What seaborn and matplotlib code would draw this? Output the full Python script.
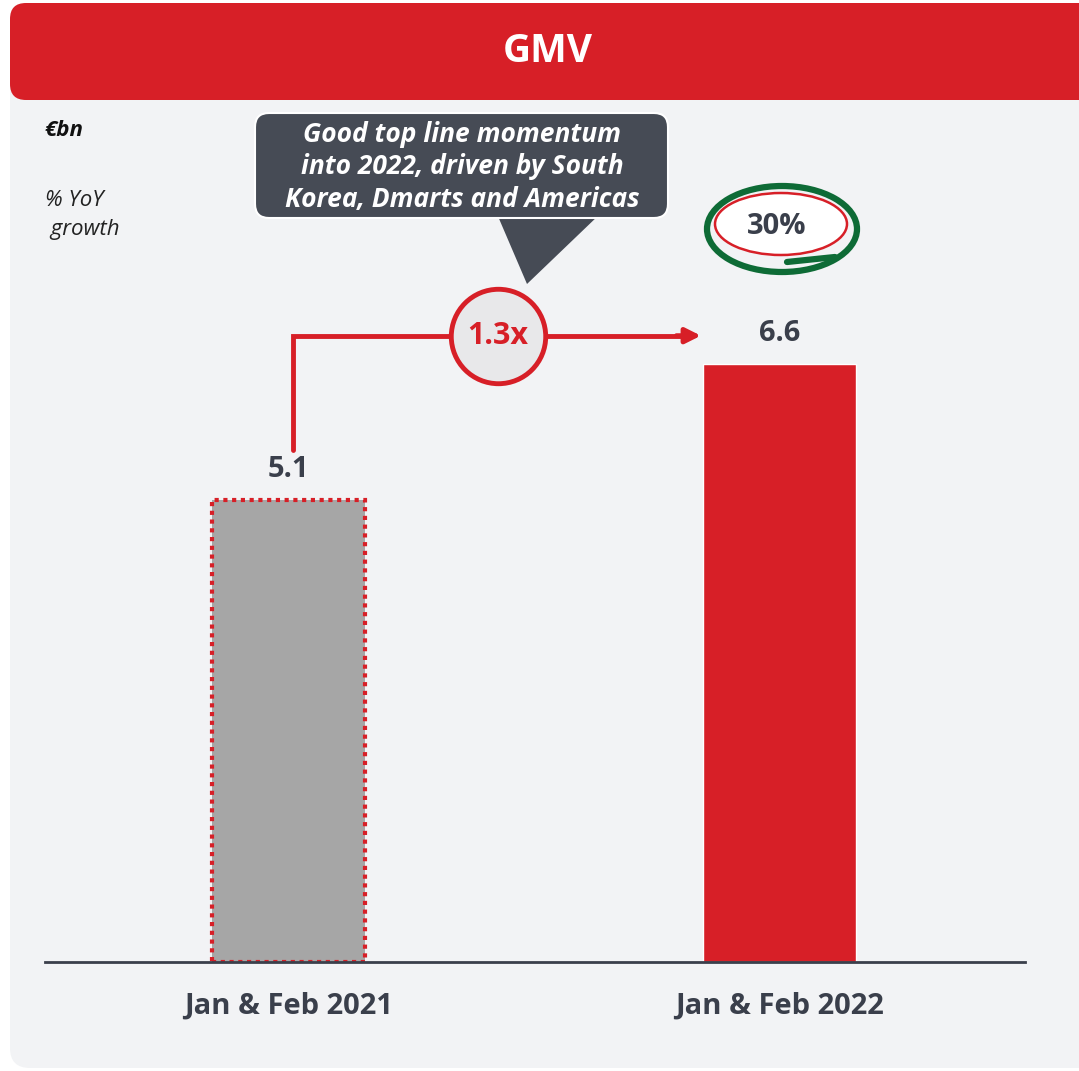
import matplotlib
matplotlib.use("Agg")
import matplotlib.pyplot as plt
import seaborn as sns
import pandas as pd
from matplotlib.patches import FancyBboxPatch, Polygon, Ellipse

# ---- data ----
periods = ["Jan & Feb 2021", "Jan & Feb 2022"]
gmv_values = [5.1, 6.6]
multiple_label = "1.3x"
growth_label = "30%"
title = "GMV"
unit_label = "€bn"
growth_axis_label = ["% YoY", " growth"]
callout_lines = ["Good top line momentum", "into 2022, driven by South", "Korea, Dmarts and Americas"]

RED = "#D71F27"
GRAY = "#A6A6A6"
DARK = "#3A3F4B"
PANEL = "#F2F3F5"
CALLOUT = "#464B55"
GREEN = "#0E6B36"

sns.set_style("white")
plt.rcParams["font.family"] = ["Open Sans", "DejaVu Sans"]

W, H = 1079, 1071
fig = plt.figure(figsize=(W / 100, H / 100), dpi=100)
fig.patch.set_facecolor("white")

# background overlay in pixel coordinates
bg = fig.add_axes([0, 0, 1, 1], zorder=0)
bg.set_xlim(0, W)
bg.set_ylim(H, 0)
bg.axis("off")
bg.add_patch(FancyBboxPatch((10, 5), 1120, 1063, boxstyle="round,pad=0,rounding_size=20",
                            facecolor=PANEL, edgecolor="none"))
bg.add_patch(FancyBboxPatch((10, 3), 1120, 97, boxstyle="round,pad=0,rounding_size=16",
                            facecolor=RED, edgecolor="none"))
bg.text(548, 52, title, color="white", fontsize=28, fontweight="bold", ha="center", va="center")

bg.text(45, 130, unit_label, fontsize=16, fontweight="bold", fontstyle="italic", color="#111111",
        ha="left", va="center")
bg.text(45, 200, growth_axis_label[0], fontsize=16, fontstyle="italic", color="#222222",
        ha="left", va="center")
bg.text(45, 230, growth_axis_label[1], fontsize=16, fontstyle="italic", color="#222222",
        ha="left", va="center")

# callout
bg.add_patch(Polygon([(497, 214), (600, 214), (527, 284)], closed=True,
                     facecolor=CALLOUT, edgecolor="none"))
bg.add_patch(FancyBboxPatch((255, 113), 413, 105, boxstyle="round,pad=0,rounding_size=14",
                            facecolor=CALLOUT, edgecolor="white", linewidth=1.5))
for i, line in enumerate(callout_lines):
    bg.text(462, 135 + 32 * i, line, color="white", fontsize=19, fontweight="bold",
            fontstyle="italic", ha="center", va="center")

# growth bubble
bg.add_patch(Ellipse((781, 224), 132, 62, facecolor="white", edgecolor=RED, linewidth=1.8))
bg.add_patch(Ellipse((782, 229), 150, 86, facecolor="none", edgecolor=GREEN, linewidth=4.5))
bg.plot([787, 835], [262, 257], color=GREEN, linewidth=4.5, solid_capstyle="round")
bg.text(777, 226, growth_label, fontsize=21, fontweight="bold", color=DARK, ha="center", va="center")

# main chart axes
ax = fig.add_axes([45 / W, (H - 962) / H, 980 / W, (962 - 110) / H], zorder=1)
ax.patch.set_alpha(0)
df = pd.DataFrame({"period": periods, "gmv": gmv_values})
sns.barplot(data=df, x="period", y="gmv", hue="period", palette=[GRAY, RED], width=0.31,
            legend=False, ax=ax, saturation=1)
first = ax.patches[0]
first.set_edgecolor(RED)
first.set_linewidth(3)
first.set_linestyle((0, (1, 1.1)))

ax.set_xlim(-0.496, 1.5)
ax.set_ylim(0, 9.4)
ax.set_xlabel("")
ax.set_ylabel("")
ax.set_yticks([])
for s in ["top", "right", "left"]:
    ax.spines[s].set_visible(False)
ax.spines["bottom"].set_color(DARK)
ax.spines["bottom"].set_linewidth(2)
ax.tick_params(axis="x", length=0, pad=21)
for lbl in ax.get_xticklabels():
    lbl.set_fontsize(21)
    lbl.set_fontweight("bold")
    lbl.set_color(DARK)

for i, v in enumerate(gmv_values):
    ax.text(i, v + 0.33, f"{v}", ha="center", va="center", fontsize=21, fontweight="bold", color=DARK)

# connector with multiple
y_conn = gmv_values[1] + 0.31
x_start = 0.01
x_end = 1 - 0.16
ax.plot([x_start, x_start, x_end - 0.03], [gmv_values[0] + 0.55, y_conn, y_conn],
        color=RED, linewidth=3.5, solid_joinstyle="miter", clip_on=False)
ax.annotate("", xy=(x_end, y_conn), xytext=(x_end - 0.05, y_conn),
            arrowprops=dict(arrowstyle="-|>,head_length=0.9,head_width=0.45", color=RED, lw=3.5,
                            shrinkA=0, shrinkB=0))
x_mid = 0.426
ax.scatter([x_mid], [y_conn], s=68 ** 2, facecolor="#E8E8EA", edgecolor=RED, linewidth=3.5,
           zorder=5, clip_on=False)
ax.text(x_mid, y_conn, multiple_label, ha="center", va="center", fontsize=22, fontweight="bold",
        color=RED, zorder=6)

fig.savefig("out.png", dpi=100, facecolor=fig.get_facecolor())
